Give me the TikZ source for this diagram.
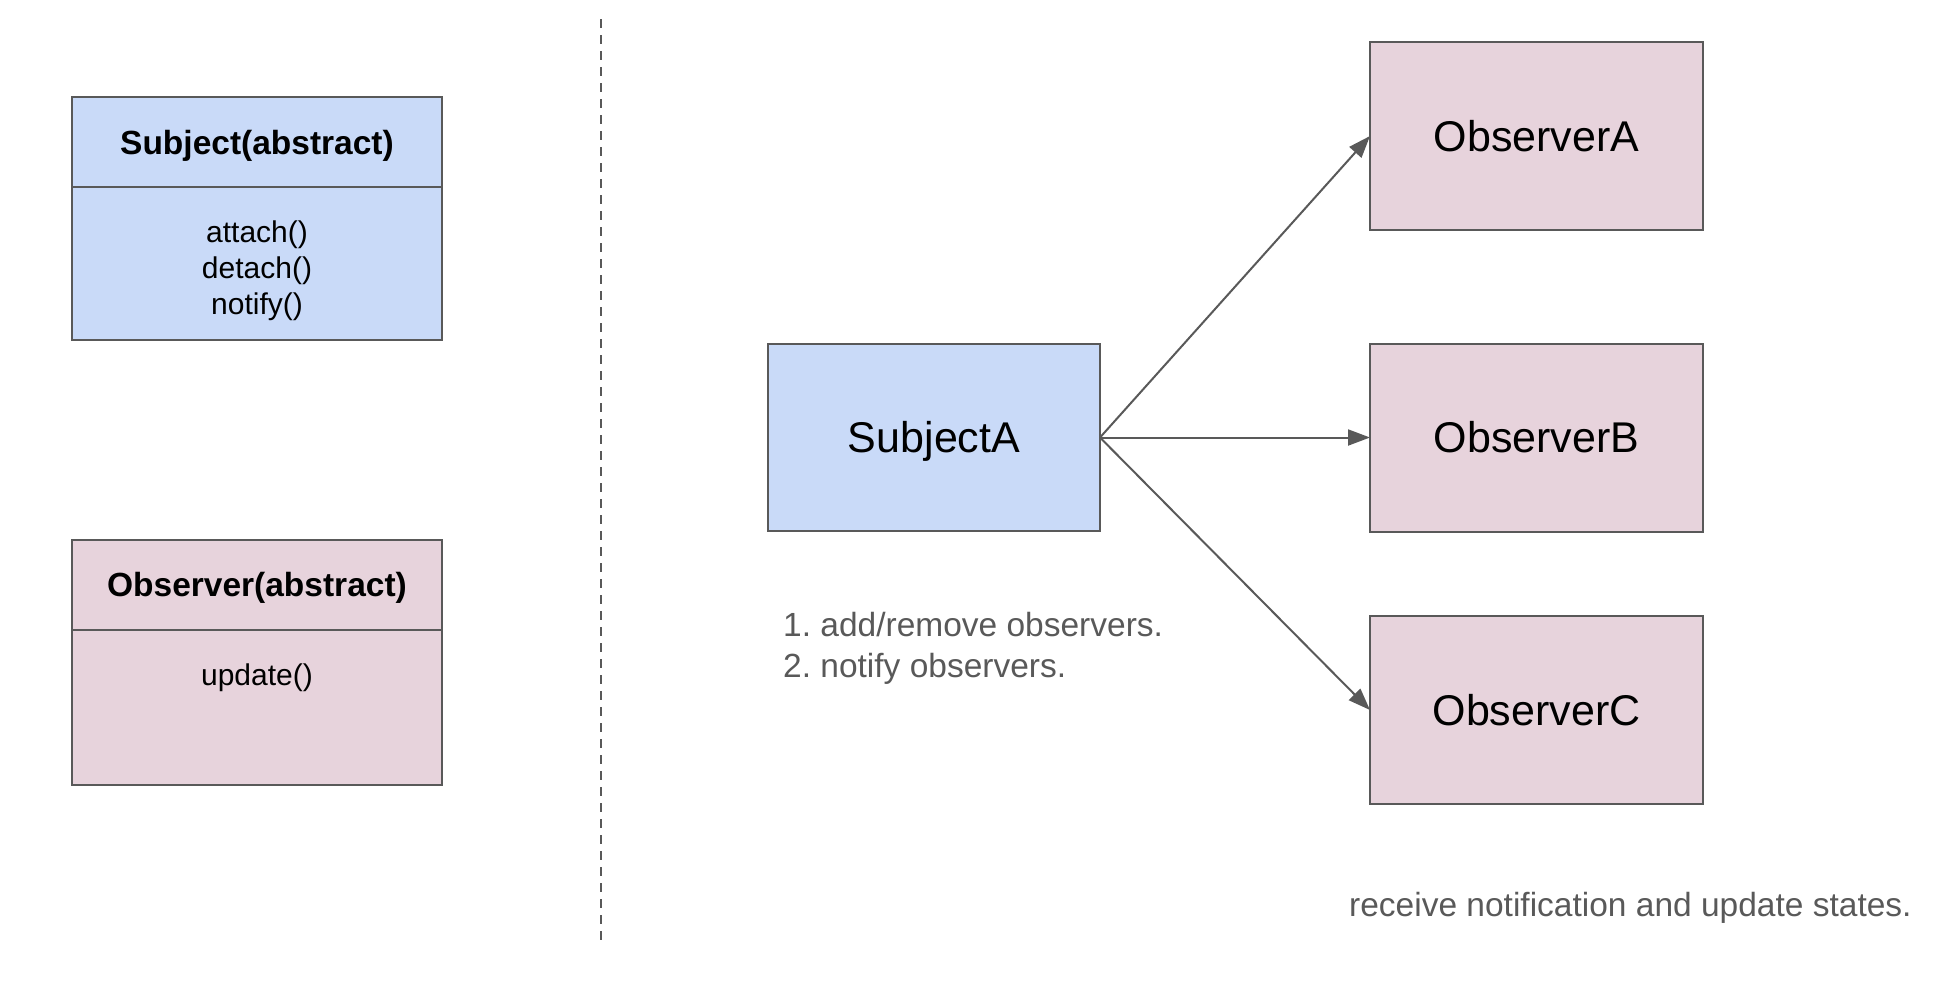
\documentclass[tikz,border=0pt]{standalone}
\usepackage{fontspec}
\setmainfont{Liberation Sans}
\usetikzlibrary{arrows.meta,positioning}
\definecolor{subjblue}{HTML}{C9DAF8}
\definecolor{obspink}{HTML}{E7D3DC}
\definecolor{edgegray}{HTML}{595959}
\definecolor{notegray}{HTML}{595959}
\frenchspacing
\tikzset{
  box/.style={draw=edgegray, line width=2pt, outer sep=0pt, inner sep=0pt, align=center},
  headbox/.style={box, minimum width=370pt, minimum height=90pt, text height=24pt, text depth=0pt, font=\fontsize{33.5}{40}\selectfont\bfseries},
  classbox/.style={box, minimum width=333pt, minimum height=188pt, text height=30.8pt, text depth=0pt, font=\fontsize{43}{50}\selectfont},
  methodtext/.style={inner sep=0pt, align=center, font=\fontsize{30}{36}\selectfont},
  notetext/.style={inner sep=0pt, align=left, text=notegray, font=\fontsize{33.5}{41}\selectfont},
  flow/.style={draw=edgegray, line width=2pt, -{Triangle[length=22pt,width=16pt]}},
  divider/.style={draw=edgegray, line width=2pt, dash pattern=on 9pt off 7pt}
}
\begin{document}
\begin{tikzpicture}[x=1pt,y=-1pt]
\useasboundingbox (0,0) rectangle (1946,994);
% abstract classes
\node[headbox, fill=subjblue] (subjhead) at (257,142) {Subject(abstract)};
\node[box, fill=subjblue, minimum width=370pt, minimum height=153pt, anchor=north] (subjbody) at (subjhead.south) {};
\node[methodtext] (subjmeth) at (257,271) {attach()\\detach()\\notify()};
\node[headbox, fill=obspink] (obshead) at (257,584.5) {Observer(abstract)};
\node[box, fill=obspink, minimum width=370pt, minimum height=155pt, anchor=north] (obsbody) at (obshead.south) {};
\node[methodtext] (obsmeth) at (257,678) {update()};
% divider
\coordinate (divtop) at (601,19);
\coordinate (divbot) at (601,946);
\draw[divider] (divtop) -- (divbot);
% concrete
\node[classbox, fill=subjblue, minimum width=332pt, minimum height=187pt] (subja) at (934,437.5) {SubjectA};
\node[classbox, fill=obspink] (obsa) at (1536.5,136) {ObserverA};
\node[classbox, fill=obspink] (obsb) at (1536.5,437.5) {ObserverB};
\node[classbox, fill=obspink] (obsc) at (1536.5,710) {ObserverC};
\draw[flow] (subja.east) -- (obsa.west);
\draw[flow] (subja.east) -- (obsb.west);
\draw[flow] (subja.east) -- (obsc.west);
% notes
\node[notetext, anchor=west] (note1) at (783,648.5) {1. add/remove observers.\\2. notify observers.};
\node[notetext, anchor=west] (note2) at (1349,907.5) {receive notification and update states.};
\end{tikzpicture}
\end{document}
